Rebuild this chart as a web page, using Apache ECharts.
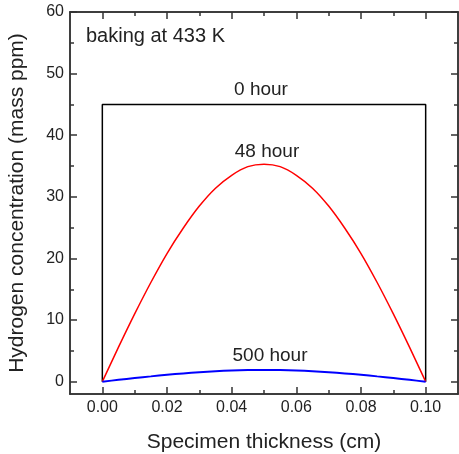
<!DOCTYPE html>
<html>
<head>
<meta charset="utf-8">
<script src="https://cdn.jsdelivr.net/npm/echarts@6/dist/echarts.min.js"></script>
<style>
  html, body { margin: 0; padding: 0; background: #fff; }
  #chart { width: 459px; height: 454px; }
</style>
</head>
<body>
<div id="chart"></div>
<script>
// values
const thickness = [0, 0.005, 0.01, 0.015, 0.02, 0.025, 0.03, 0.035, 0.04, 0.045, 0.05,
  0.055, 0.06, 0.065, 0.07, 0.075, 0.08, 0.085, 0.09, 0.095, 0.1]
const hour48 = [0, 5.6, 11.0, 16.1, 20.8, 24.9, 28.5, 31.4, 33.5, 34.9, 35.3,
  34.9, 33.5, 31.4, 28.5, 24.9, 20.8, 16.1, 11.0, 5.6, 0]
const hour500 = [0, 0.3, 0.6, 0.86, 1.12, 1.34, 1.54, 1.69, 1.81, 1.88, 1.9,
  1.88, 1.81, 1.69, 1.54, 1.34, 1.12, 0.86, 0.6, 0.3, 0]
const hour0X = [0, 0, 0.1, 0.1]
const hour0Y = [0, 45, 45, 0]

const xMajor = [0, 0.02, 0.04, 0.06, 0.08, 0.1]
const xMinor = [0.01, 0.03, 0.05, 0.07, 0.09]
const yMajor = [0, 10, 20, 30, 40, 50, 60]
const yMinor = [5, 15, 25, 35, 45, 55]

const FONT = 'Liberation Sans, Arial, sans-serif'
const AX = '#333'

const zip = (a, b) => a.map((v, i) => [v, b[i]])

// one axis per tick set, stacked on the same grid edge
function tickAxis(kind, pos, ticks, len, extra) {
  const isX = kind === 'x'
  return Object.assign({
    type: 'value', position: pos,
    min: isX ? -0.01 : -2, max: isX ? 0.11 : 60,
    axisLine: { show: true, onZero: false, lineStyle: { color: AX, width: 1.5 } },
    axisTick: { show: true, inside: true, length: len, customValues: ticks, lineStyle: { color: AX, width: 1.5 } },
    axisLabel: { show: false },
    splitLine: { show: false }
  }, extra || {})
}

const c = echarts.init(document.getElementById('chart'))
c.setOption({
  animation: false,
  grid: { left: 70, right: 1, top: 12, bottom: 60, outerBoundsMode: 'none', containLabel: false },
  xAxis: [
    tickAxis('x', 'bottom', xMajor, 7, {
      name: 'Specimen thickness (cm)', nameLocation: 'middle', nameGap: 38,
      nameTextStyle: { fontFamily: FONT, fontSize: 21, color: '#222' },
      axisLabel: { show: true, customValues: xMajor, margin: 6, fontFamily: FONT, fontSize: 16, color: '#222',
        formatter: v => v.toFixed(2) }
    }),
    tickAxis('x', 'bottom', xMinor, 4),
    tickAxis('x', 'top', xMajor, 7),
    tickAxis('x', 'top', xMinor, 4)
  ],
  yAxis: [
    tickAxis('y', 'left', yMajor, 7, {
      name: 'Hydrogen concentration (mass ppm)', nameLocation: 'middle', nameGap: 42,
      nameTextStyle: { fontFamily: FONT, fontSize: 21, color: '#222' },
      axisLabel: { show: true, customValues: yMajor, margin: 6, fontFamily: FONT, fontSize: 16, color: '#222' }
    }),
    tickAxis('y', 'left', yMinor, 4),
    tickAxis('y', 'right', yMajor, 7),
    tickAxis('y', 'right', yMinor, 4)
  ],
  series: [
    {
      name: '0 hour', type: 'line', data: zip(hour0X, hour0Y), showSymbol: false,
      lineStyle: { color: '#000', width: 1.5 }
    },
    {
      name: '48 hour', type: 'line', data: zip(thickness, hour48), showSymbol: false, smooth: 0.3,
      lineStyle: { color: '#ff0000', width: 1.5 }
    },
    {
      name: '500 hour', type: 'line', data: zip(thickness, hour500), showSymbol: false, smooth: 0.3,
      lineStyle: { color: '#0000ff', width: 2 }
    }
  ],
  graphic: [
    { type: 'text', left: 86, top: 26, style: { text: 'baking at 433 K', font: '20px ' + FONT, fill: '#222' } },
    { type: 'text', x: 261, y: 90, style: { text: '0 hour', font: '19px ' + FONT, fill: '#222', textAlign: 'center', textVerticalAlign: 'middle' } },
    { type: 'text', x: 267, y: 152, style: { text: '48 hour', font: '19px ' + FONT, fill: '#222', textAlign: 'center', textVerticalAlign: 'middle' } },
    { type: 'text', x: 270, y: 356, style: { text: '500 hour', font: '19px ' + FONT, fill: '#222', textAlign: 'center', textVerticalAlign: 'middle' } }
  ]
})
window.addEventListener('resize', () => c.resize())
</script>
</body>
</html>
